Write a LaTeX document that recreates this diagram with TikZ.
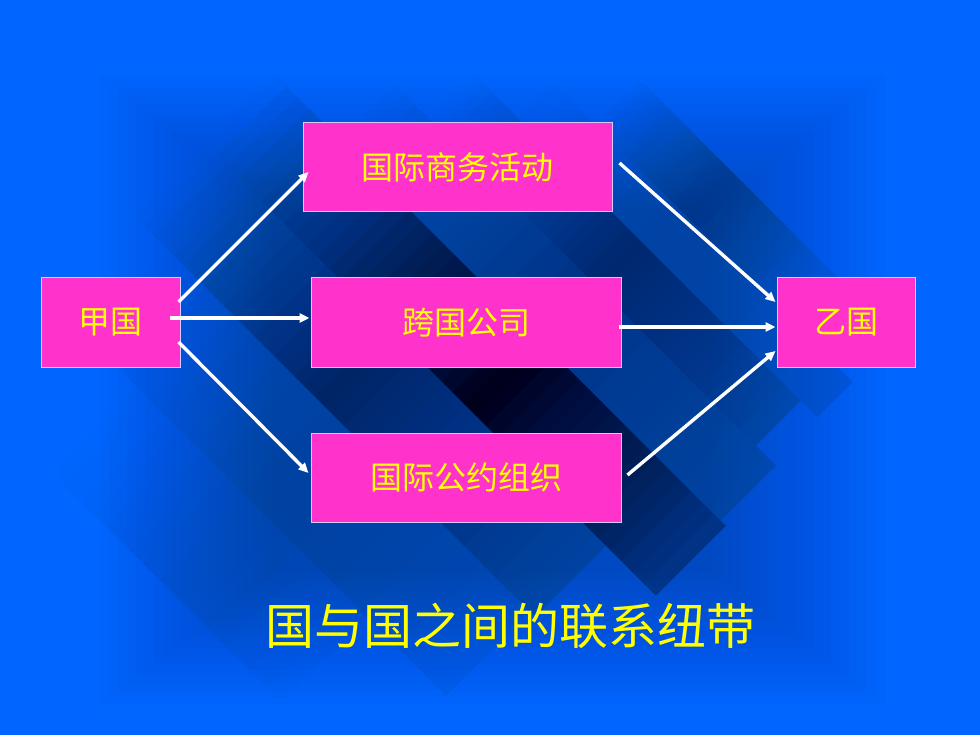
\documentclass[tikz,border=0pt]{standalone}
\usepackage{fontspec}
\newfontfamily\cjk{Noto Sans CJK SC}
\usetikzlibrary{arrows.meta,calc}
\definecolor{bgblue}{HTML}{0066FF}
\definecolor{boxpink}{HTML}{FF33CC}
\definecolor{boxline}{HTML}{D8C8FF}
\definecolor{txtyellow}{HTML}{FFFF00}
% one diagonal stripe: s1 s2 d1 d2 peak speak endvalue  (s=x+y, d=x-y on the page)
\newcommand\diagstripe[7]{%
  \pgfmathsetmacro\stw{(#2-#1)/40}%
  \foreach \k in {0,...,39}{%
    \pgfmathsetmacro\sa{#1+\stw*\k}%
    \pgfmathsetmacro\sb{#1+\stw*(\k+1)+1.5}%
    \pgfmathsetmacro\sm{#1+\stw*(\k+0.5)}%
    \pgfmathsetmacro\opa{#5*(\sm-#1)/(#6-#1)}%
    \pgfmathsetmacro\opb{#5+(#7-#5)*(\sm-#6)/(#2-#6)}%
    \pgfmathsetmacro\op{\sm<#6 ? \opa : \opb}%
    \pgfmathtruncatemacro\pc{100*\op}%
    \fill[black!\pc!bgblue] (\sa,-#3) rectangle (\sb,-#4);
  }}
\begin{document}
\begin{tikzpicture}[x=1pt,y=-1pt,
  box/.style={draw=boxline, line width=1pt, fill=boxpink, text=txtyellow,
    inner sep=0pt, minimum height=89pt, font=\cjk\fontsize{32}{38}\selectfont},
  link/.style={draw=white, line width=3.4pt, -{Triangle[length=10pt,width=9pt]}}]
\fill[bgblue] (0,0) rectangle (980,735);
\useasboundingbox (0,0) rectangle (980,735);
\begin{scope}
\clip (60,60) rectangle (910,712);
\begin{scope}[rotate=-45, scale=0.70711]
\diagstripe{500}{980}{-420}{-250}{0.10}{760}{0.02}
\diagstripe{400}{1140}{-250}{-82}{0.16}{780}{0.05}
\diagstripe{350}{1150}{-82}{60}{0.45}{720}{0.15}
\diagstripe{350}{1250}{60}{200}{0.82}{880}{0.30}
\diagstripe{460}{1240}{200}{310}{0.30}{850}{0.15}
\diagstripe{550}{1200}{310}{400}{0.42}{880}{0.18}
\diagstripe{620}{1233}{400}{470}{0.14}{900}{0.10}
\diagstripe{710}{1150}{470}{560}{0.28}{900}{0.02}
\end{scope}
% soft darkening of the middle of the slide
\foreach \i in {0,...,19}{%
  \fill[black, fill opacity=0.011] (100+\i*9,75+\i*7) rectangle (885-\i*9,705-\i*7);
}
\end{scope}

\node[box, minimum width=139pt] (jia) at (110.5,322.5) {甲国};
\node[box, minimum width=309pt] (biz) at (457.5,167.5) {国际商务活动};
\node[box, minimum width=310pt] (corp) at (466,322.5) {跨国公司};
\node[box, minimum width=310pt] (org) at (466,477.5) {国际公约组织};
\node[box, minimum width=138pt] (yi) at (846,322.5) {乙国};

\node[text=txtyellow, font=\cjk\fontsize{49}{56}\selectfont] (title) at (510,626) {国与国之间的联系纽带};

\draw[link] ([xshift=-2pt,yshift=20.5pt]jia.east) -- ([xshift=6pt,yshift=-4.5pt]biz.west);
\draw[link] ([xshift=-11pt,yshift=4.5pt]jia.east) -- ([xshift=-1pt,yshift=4.5pt]corp.west);
\draw[link] ([xshift=-2pt,yshift=-19.5pt]jia.east) -- ([xshift=-2pt,yshift=4.5pt]org.west);
\draw[link] ([xshift=7pt,yshift=4.5pt]biz.east) -- ([xshift=-1pt,yshift=20.5pt]yi.west);
\draw[link] ([xshift=-3pt,yshift=-4.5pt]corp.east) -- ([xshift=-1pt,yshift=-4.5pt]yi.west);
\draw[link] ([xshift=6pt,yshift=2.5pt]org.east) -- ([xshift=-1pt,yshift=-28.5pt]yi.west);
\end{tikzpicture}
\end{document}
